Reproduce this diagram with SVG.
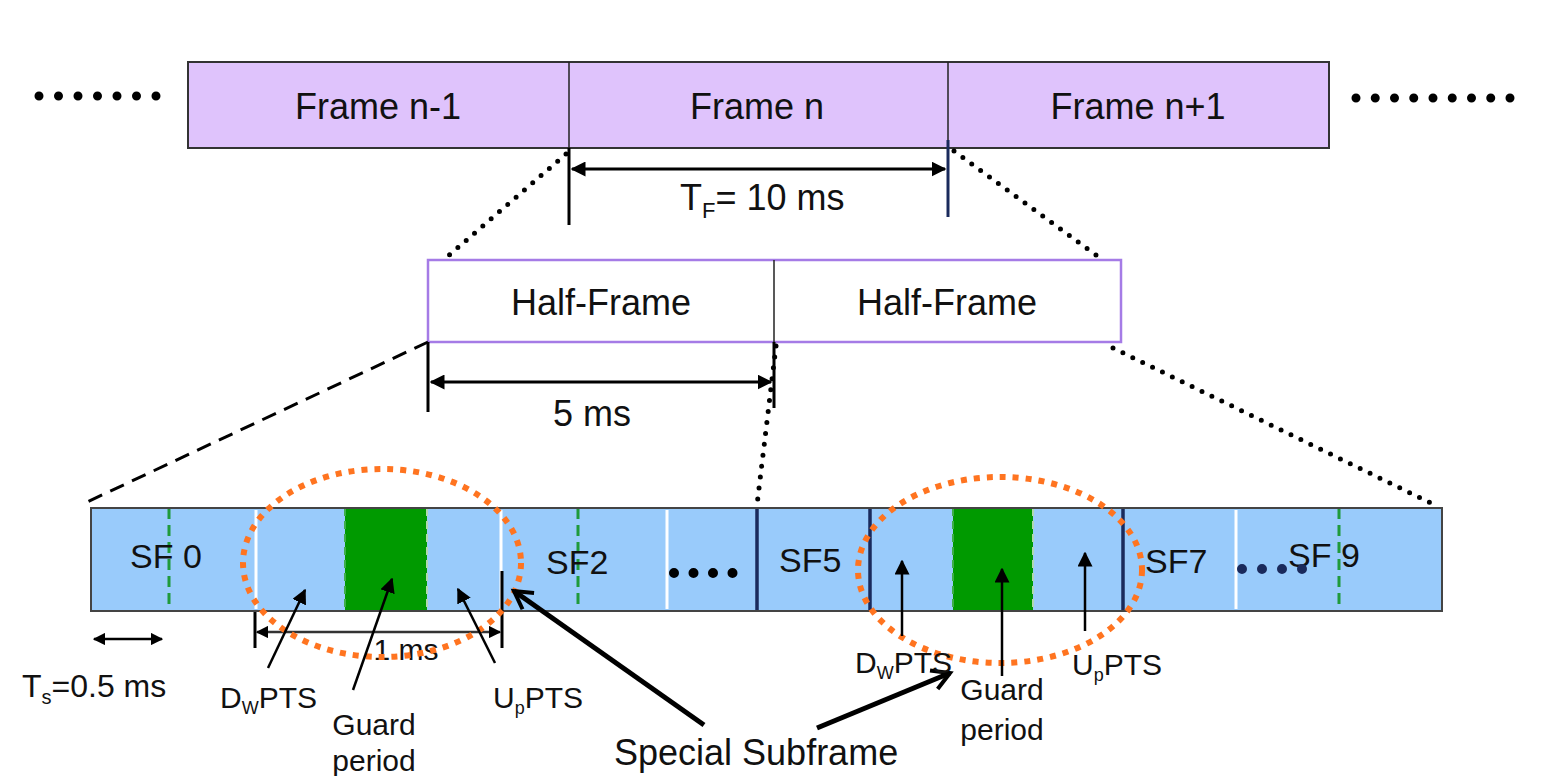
<svg xmlns="http://www.w3.org/2000/svg" width="1551" height="776" viewBox="0 0 1551 776">
<style>
text{font-family:"Liberation Sans",Arial,sans-serif;fill:#111;}
.big{font-size:36px;}
.sf{font-size:34px;}
.lbl{font-size:30px;}
.frame{fill:#dfc3fc;stroke:#333;stroke-width:2;}
.dots{stroke:#000;stroke-linecap:round;fill:none;}
.dim{stroke:#000;stroke-width:3;fill:none;}
.gdash{stroke:#1f9a3a;stroke-width:3;stroke-dasharray:11 6;}
.wline{stroke:#fff;stroke-width:3;}
.nline{stroke:#1a2a5c;stroke-width:3.5;}
.ell{fill:none;stroke:#ff7420;stroke-width:6;stroke-dasharray:6 7;}
.thin{stroke:#000;stroke-width:2.5;fill:none;}
.thick{stroke:#000;stroke-width:5;fill:none;}
</style>
<defs>
<marker id="ah" viewBox="0 0 10 10" refX="9" refY="5" markerWidth="5" markerHeight="5" orient="auto-start-reverse" markerUnits="strokeWidth">
<path d="M0,0 L10,5 L0,10 z" fill="#000"/>
</marker>
<marker id="ah2" viewBox="0 0 10 10" refX="9" refY="5" markerWidth="6" markerHeight="6" orient="auto-start-reverse" markerUnits="strokeWidth">
<path d="M0,0 L10,5 L0,10 z" fill="#000"/>
</marker>
<marker id="open" viewBox="0 0 10 10" refX="8" refY="5" markerWidth="5" markerHeight="5" orient="auto" markerUnits="strokeWidth">
<path d="M1,1 L8,5 L1,9" fill="none" stroke="#000" stroke-width="1.6"/>
</marker>
</defs>

<g id="frames">
<rect class="frame" x="188" y="62" width="1141" height="86"/>
<line x1="569" y1="62" x2="569" y2="148" stroke="#222" stroke-width="1.5"/>
<line x1="948" y1="62" x2="948" y2="148" stroke="#222" stroke-width="1.5"/>
</g>
<g id="frame-n-1"><text class="big" x="378" y="119" text-anchor="middle">Frame n-1</text></g>
<g id="frame-n"><text class="big" x="757" y="119" text-anchor="middle">Frame n</text></g>
<g id="frame-n+1"><text class="big" x="1138" y="119" text-anchor="middle">Frame n+1</text></g>
<g id="ellipsis-left"><line class="dots" x1="39" y1="96" x2="157" y2="96" stroke-width="9" stroke-dasharray="0 19.5"/></g>
<g id="ellipsis-right"><line class="dots" x1="1356" y1="98" x2="1512" y2="98" stroke-width="9" stroke-dasharray="0 19.25"/></g>

<g id="halfframe">
<rect x="428" y="260" width="693" height="82" fill="#fff" stroke="#a57be6" stroke-width="2.5"/>
<line x1="774" y1="260" x2="774" y2="342" stroke="#222" stroke-width="1.5"/>
<text class="big" x="601" y="315" text-anchor="middle">Half-Frame</text>
<text class="big" x="947" y="315" text-anchor="middle">Half-Frame</text>
</g>

<g id="subframes">
<rect x="91" y="508" width="1351" height="103" fill="#99cbfb"/>
<rect x="345" y="508" width="82" height="103" fill="#009a00"/>
<rect x="953" y="508" width="80" height="103" fill="#009a00"/>
<line x1="345" y1="508" x2="345" y2="611" stroke="#3fae4a" stroke-width="2" stroke-dasharray="8 5"/>
<line x1="427" y1="508" x2="427" y2="611" stroke="#b0d8b0" stroke-width="2" stroke-dasharray="8 5"/>
<line x1="953" y1="508" x2="953" y2="611" stroke="#3fae4a" stroke-width="2" stroke-dasharray="8 5"/>
<line x1="1033" y1="508" x2="1033" y2="611" stroke="#b0d8b0" stroke-width="2" stroke-dasharray="8 5"/>
<line class="gdash" x1="169" y1="508" x2="169" y2="611"/>
<line class="gdash" x1="578" y1="508" x2="578" y2="611"/>
<line class="gdash" x1="1339" y1="508" x2="1339" y2="611"/>
<line class="wline" x1="256" y1="510" x2="256" y2="609"/>
<line class="wline" x1="501" y1="510" x2="501" y2="609"/>
<line class="wline" x1="667" y1="510" x2="667" y2="609"/>
<line class="wline" x1="1236" y1="510" x2="1236" y2="609"/>
<line class="nline" x1="757" y1="508" x2="757" y2="611"/>
<line class="nline" x1="870" y1="508" x2="870" y2="611"/>
<line class="nline" x1="1123" y1="508" x2="1123" y2="611"/>
<rect x="91" y="508" width="1351" height="103" fill="none" stroke="#444" stroke-width="2"/>
<text class="sf" x="130" y="568">SF 0</text>
<text class="sf" x="546" y="574">SF2</text>
<text class="sf" x="779" y="572">SF5</text>
<text class="sf" x="1145" y="573">SF7</text>
<text class="sf" x="1288" y="567">SF 9</text>
<line class="dots" x1="674" y1="573" x2="735" y2="573" stroke-width="10" stroke-dasharray="0 19.5"/>
<line x1="1242" y1="569" x2="1303" y2="569" stroke="#1a2a5c" stroke-linecap="round" stroke-width="10" stroke-dasharray="0 20"/>
</g>

<g id="connectors">
<line class="dots" x1="566" y1="154" x2="447" y2="257" stroke-width="5" stroke-dasharray="0 11"/>
<line class="dots" x1="954" y1="151" x2="1100" y2="258" stroke-width="5" stroke-dasharray="0 11"/>
<line x1="428" y1="342" x2="85" y2="503" stroke="#000" stroke-width="3" stroke-dasharray="15 9"/>
<line class="dots" x1="776" y1="346" x2="757" y2="505" stroke-width="5" stroke-dasharray="0 11"/>
<line class="dots" x1="1113" y1="348" x2="1437" y2="506" stroke-width="5" stroke-dasharray="0 11"/>
</g>

<g id="dim-tf">
<line class="dim" x1="569" y1="148" x2="569" y2="225"/>
<line x1="948" y1="140" x2="948" y2="217" stroke="#1a2a5c" stroke-width="3"/>
<line class="dim" x1="572" y1="169" x2="945" y2="169" marker-start="url(#ah)" marker-end="url(#ah)"/>
<text class="big" x="680" y="210">T<tspan font-size="22" dy="8">F</tspan><tspan dy="-8">= 10 ms</tspan></text>
</g>

<g id="dim-5ms">
<line class="dim" x1="428" y1="342" x2="428" y2="412"/>
<line class="dim" x1="774" y1="342" x2="774" y2="408"/>
<line class="dim" x1="431" y1="382" x2="771" y2="382" marker-start="url(#ah)" marker-end="url(#ah)"/>
<text class="big" x="592" y="426" text-anchor="middle">5 ms</text>
</g>

<g id="dim-1ms">
<line class="dim" x1="255" y1="612" x2="255" y2="648"/>
<line class="dim" x1="502" y1="571" x2="502" y2="648"/>
<line x1="257" y1="632" x2="500" y2="632" stroke="#333" stroke-width="2.5" marker-start="url(#ah)" marker-end="url(#ah)"/>
<text class="lbl" x="406" y="660" text-anchor="middle" fill="#1f2d50">1 ms</text>
</g>

<g id="dim-ts">
<line x1="94" y1="639" x2="162" y2="639" stroke="#000" stroke-width="2.5" marker-start="url(#ah)" marker-end="url(#ah)"/>
<text font-size="32" x="22" y="697">T<tspan font-size="20" dy="7">s</tspan><tspan dy="-7">=0.5 ms</tspan></text>
</g>

<g id="special1"><ellipse class="ell" cx="382" cy="563" rx="139" ry="94"/></g>
<g id="special2"><ellipse class="ell" cx="1000" cy="570" rx="142" ry="93"/></g>

<g id="arrows">
<line class="thin" x1="268" y1="668" x2="305" y2="590" marker-end="url(#ah2)"/>
<line class="thin" x1="353" y1="690" x2="392" y2="579" marker-end="url(#ah2)"/>
<line class="thin" x1="495" y1="663" x2="458" y2="589" marker-end="url(#ah2)"/>
<line class="thin" x1="902" y1="636" x2="902" y2="561" marker-end="url(#ah2)"/>
<line class="thin" x1="1002" y1="676" x2="1002" y2="569" marker-end="url(#ah2)"/>
<line class="thin" x1="1085" y1="631" x2="1085" y2="553" marker-end="url(#ah2)"/>
<line class="thick" x1="704" y1="725" x2="514" y2="591" marker-end="url(#open)"/>
<line class="thick" x1="817" y1="728" x2="950" y2="673" marker-end="url(#open)"/>
</g>

<g id="labels">
<text class="lbl" x="220" y="708">D<tspan font-size="18" dy="6">W</tspan><tspan dy="-6">PTS</tspan></text>
<text class="lbl" x="374" y="735" text-anchor="middle">Guard</text>
<text class="lbl" x="374" y="771" text-anchor="middle">period</text>
<text class="lbl" x="493" y="708">U<tspan font-size="18" dy="6">p</tspan><tspan dy="-6">PTS</tspan></text>
<text font-size="36" x="614" y="765">Special Subframe</text>
<text class="lbl" x="855" y="673">D<tspan font-size="18" dy="6">W</tspan><tspan dy="-6">PTS</tspan></text>
<text class="lbl" x="1002" y="700" text-anchor="middle">Guard</text>
<text class="lbl" x="1002" y="740" text-anchor="middle">period</text>
<text class="lbl" x="1072" y="675">U<tspan font-size="18" dy="6">p</tspan><tspan dy="-6">PTS</tspan></text>
</g>
</svg>
